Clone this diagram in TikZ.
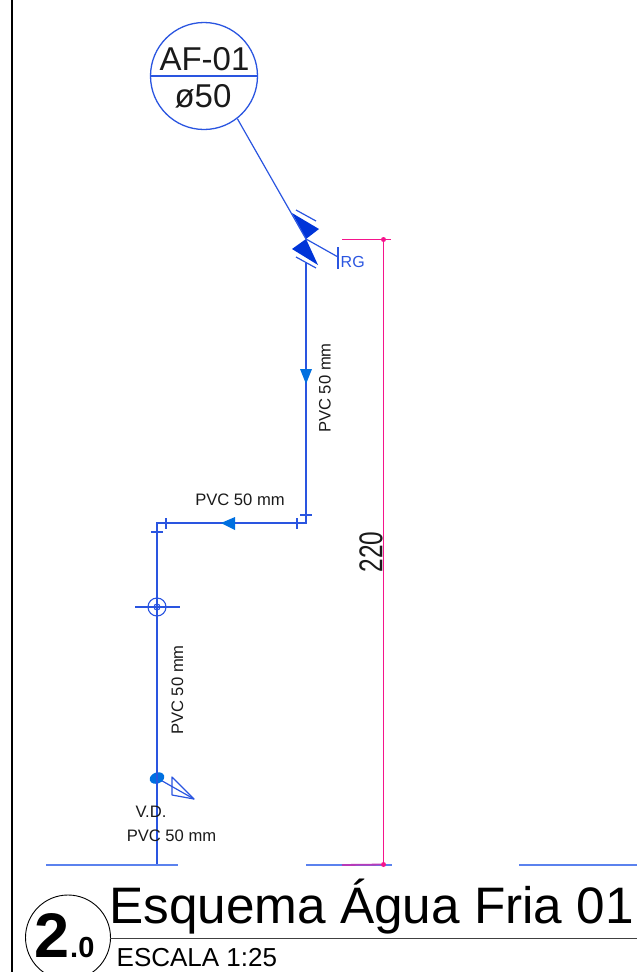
\documentclass[tikz,border=0pt]{standalone}
\usepackage{fontspec}
\setmainfont{Liberation Sans}
\definecolor{pipe}{HTML}{2A55E0}
\definecolor{floorc}{HTML}{5B82EE}
\definecolor{flow}{HTML}{0070E0}
\definecolor{valvec}{HTML}{0034D8}
\definecolor{magentac}{RGB}{245,20,140}
\definecolor{dimfloor}{HTML}{B83AB8}
\definecolor{txt}{HTML}{1A1A1A}
\newcommand{\fs}[1]{\fontsize{#1}{#1}\selectfont}
\tikzset{
  pipeline/.style={draw=pipe,line width=1.5pt},
  thinline/.style={draw=pipe,line width=1.2pt},
  floorline/.style={draw=floorc,line width=1.8pt},
  measureline/.style={draw=magentac,line width=1.5pt},
  measuredot/.style={circle,fill=magentac,inner sep=0pt,minimum size=5pt},
  flowtip/.style={fill=flow,draw=none},
  valvetip/.style={fill=valvec,draw=none},
  lbl/.style={inner sep=0pt,text=txt,font=\fs{16.6}},
}
\begin{document}
\begin{tikzpicture}[x=1pt,y=-1pt]
\useasboundingbox (0,0) rectangle (637,972);
\clip (0,0) rectangle (637,972);
% frame
\coordinate (frameT) at (12,0);
\coordinate (frameB) at (12,972);
\draw[black,line width=2.8pt] (frameT) -- (frameB);
% tag
\node[circle,draw=pipe,line width=1.3pt,minimum size=107pt,inner sep=0pt] (tag) at (204,76) {};
\draw[draw=pipe,line width=1.3pt] (tag.west) -- (tag.east);
\node[inner sep=0pt,anchor=base,font=\fs{33},text=txt] (tagA) at (204.5,70.5) {AF-01};
\node[inner sep=0pt,anchor=base,font=\fs{33},text=txt] (tagB) at (203,107) {ø50};
% valve
\coordinate (valve) at (306,239);
\coordinate (vU1) at (292,213);
\coordinate (vU2) at (319,229);
\coordinate (vL1) at (292,249);
\coordinate (vL2) at (318,265);
\fill[valvetip] (vU1) -- (vU2) -- (valve) -- cycle;
\fill[valvetip] (vL1) -- (vL2) -- (valve) -- cycle;
\draw[thinline] (tag.-52) -- (valve);
\coordinate (tU1) at (296,210);
\coordinate (tU2) at (316,221);
\coordinate (tL1) at (296,257);
\coordinate (tL2) at (316,268);
\draw[thinline] (tU1) -- (tU2);
\draw[thinline] (tL1) -- (tL2);
% RG
\coordinate (rgL) at (338,257);
\coordinate (rgT) at (338,247);
\coordinate (rgB) at (338,269);
\draw[thinline] (valve) -- (rgL);
\draw[thinline] (rgT) -- (rgB);
\node[inner sep=0pt,anchor=base west,font=\fs{16},text=pipe] (rg) at (340.5,267) {RG};
% piping
\coordinate (pTop) at (306,262);
\coordinate (c1) at (306,523);
\coordinate (c2) at (157,523);
\coordinate (pBot) at (157,865);
\draw[pipeline,line join=miter] (pTop) -- (c1) -- (c2) -- (pBot);
% couplings
\coordinate (a1) at (300,515); \coordinate (a2) at (312,515);
\coordinate (b1) at (297,518); \coordinate (b2) at (297,529);
\coordinate (d1) at (166,518); \coordinate (d2) at (166,529);
\coordinate (e1) at (151,532); \coordinate (e2) at (163,532);
\draw[thinline] (a1) -- (a2);
\draw[thinline] (b1) -- (b2);
\draw[thinline] (d1) -- (d2);
\draw[thinline] (e1) -- (e2);
% flow arrows
\coordinate (f1) at (306,384); \coordinate (f2) at (300,369); \coordinate (f3) at (312,369);
\fill[flowtip] (f1) -- (f2) -- (f3) -- cycle;
\coordinate (g1) at (221,523); \coordinate (g2) at (235,517); \coordinate (g3) at (235,530);
\fill[flowtip] (g1) -- (g2) -- (g3) -- cycle;
% riser symbol
\node[circle,draw=pipe,line width=1.1pt,minimum size=18pt,inner sep=0pt] (ru) at (157,607) {};
\node[circle,draw=pipe,line width=1.1pt,minimum size=6pt,inner sep=0pt] (ri) at (157,607) {};
\coordinate (rL) at (135,607); \coordinate (rR) at (180,607);
\draw[pipeline] (rL) -- (rR);
% drain
\coordinate (dr) at (157,778);
\coordinate (dt1) at (172,777); \coordinate (dt2) at (172,795); \coordinate (dt3) at (194,799);
\draw[thinline] (dr) -- (dt3);
\draw[thinline,line join=round] (dt1) -- (dt2) -- (dt3) -- cycle;
\fill[flow,rotate around={20:(dr)}] (dr) ellipse [x radius=7.5,y radius=5.5];
\draw[draw=pipe,line width=1.2pt] (157,771) -- (157,785);
% labels
\node[lbl,rotate=90] (l1) at (325,388) {PVC 50 mm};
\node[lbl] (l2) at (240,499.5) {PVC 50 mm};
\node[lbl,rotate=90] (l3) at (177.5,690) {PVC 50 mm};
\node[lbl] (l4) at (151,812) {V.D.};
\node[lbl] (l5) at (171.5,836) {PVC 50 mm};
% floor
\coordinate (fa1) at (46,865); \coordinate (fa2) at (178,865);
\coordinate (fb1) at (306,865); \coordinate (fb2) at (392,865);
\coordinate (fc1) at (519,865); \coordinate (fc2) at (637,865);
\draw[floorline] (fa1) -- (fa2);
\draw[floorline] (fb1) -- (fb2);
\draw[floorline] (fc1) -- (fc2);
% dimension
\node[measuredot] (dT) at (383.5,239.5) {};
\node[measuredot] (dB) at (383.5,864.5) {};
\coordinate (dTl) at (342,239.5); \coordinate (dTr) at (391,239.5);
\coordinate (dBl) at (342,865);
\draw[measureline] (dTl) -- (dTr);
\draw[draw=dimfloor,line width=1.8pt] (dBl) -- (dB);
\draw[measureline] (dT) -- (dB);
\node[inner sep=0pt,rotate=90,text=txt,xscale=0.74,font=\fs{33}] (dim) at (371,552) {220};
% title block
\node[circle,draw=black,line width=0.9pt,minimum size=85pt,inner sep=0pt] (badge) at (68,937.5) {};
\coordinate (tlL) at (110,938.5); \coordinate (tlR) at (637,938.5);
\draw[draw=black!75,line width=1.1pt] (tlL) -- (tlR);
\node[inner sep=0pt,anchor=base west,font=\fs{51.3}] (title) at (109,923.5) {Esquema Água Fria 01};
\node[inner sep=0pt,anchor=base west,font=\fs{26}] (scale) at (116.5,966) {ESCALA 1:25};
\node[inner sep=0pt,anchor=base west,font=\bfseries\fs{63}] (two) at (34.5,957) {2};
\node[inner sep=0pt,anchor=base west,font=\bfseries\fs{29}] (zero) at (70,957) {.0};
\end{tikzpicture}
\end{document}
